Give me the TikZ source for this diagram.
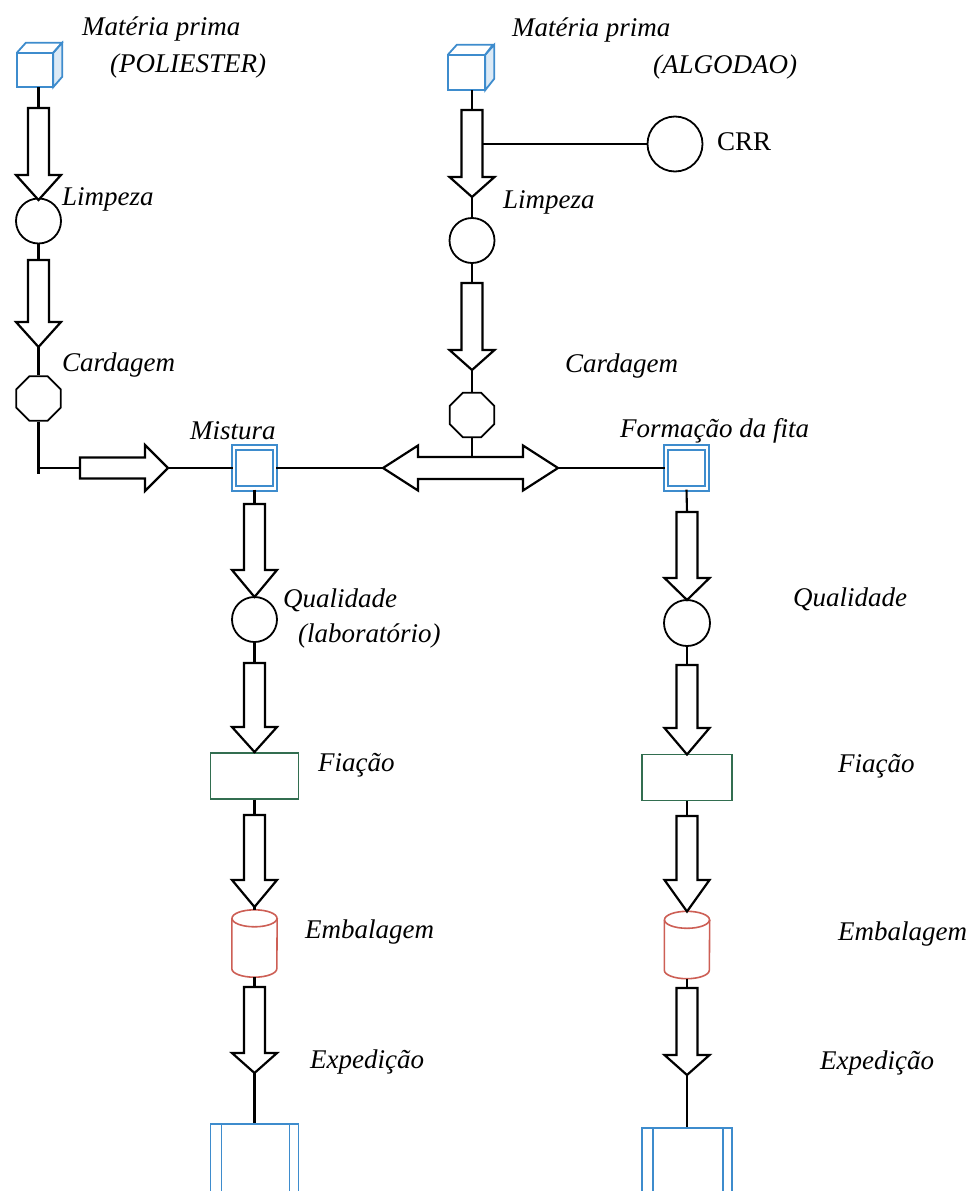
\documentclass[tikz,border=0pt]{standalone}
\usepackage{fontspec}
\setmainfont{Liberation Serif}
\usetikzlibrary{shapes.geometric,calc}
\definecolor{cblue}{RGB}{62,140,205}
\definecolor{cgreen}{RGB}{50,110,80}
\definecolor{cred}{RGB}{205,95,85}
\newcommand\varr[5]{%
  \draw[blk] (#2-10.5,#3) -- (#2+10.5,#3) -- (#2+10.5,#4) -- (#2+22.5,#4) -- (#2,#5) -- (#2-22.5,#4) -- (#2-10.5,#4) -- cycle;
  \coordinate (#1t) at (#2,#3);
  \coordinate (#1p) at (#2,#5);}
\newcommand\cubeshape[1]{%
  \draw[cblue, line width=1.8pt, fill=cblue!18] (#1.north east) -- ++(9,-10) -- ++(0,34) -- (#1.south east) -- cycle;
  \draw[cblue, line width=1.8pt] (#1.north west) -- ++(9,-10) -- ++(36,0) -- (#1.north east);
  \draw[cblue, line width=1.8pt] (#1.south west) rectangle (#1.north east);}
\newcommand\cyl[1]{%
  \draw[cred, line width=1.6pt] ($(#1.north west)+(0,8.5)$) -- ($(#1.south west)+(0,-8.5)$)
    arc[start angle=180, end angle=0, x radius=22.5, y radius=8.5] -- ($(#1.north east)+(0,8.5)$);
  \draw[cred, line width=1.6pt] ($(#1.north)+(0,8.5)$) ellipse[x radius=22.5, y radius=8.5];}
\newcommand\shipbox[1]{%
  \draw[cblue, line width=1.8pt] ($(#1.north west)+(12,0)$) -- ($(#1.south west)+(12,0)$);
  \draw[cblue, line width=1.8pt] ($(#1.north east)+(-10,0)$) -- ($(#1.south east)+(-10,0)$);}
\begin{document}
\begin{tikzpicture}[x=1pt,y=-1pt,
  lbl/.style={font=\fontsize{27}{30}\selectfont\itshape, inner sep=0, anchor=base west},
  ln/.style={line width=2.1pt},
  blk/.style={line width=2.2pt, fill=white, line join=miter},
  circ/.style={circle, draw, line width=1.8pt, minimum size=45pt, inner sep=0},
  oct/.style={regular polygon, regular polygon sides=8, draw, line width=1.8pt, minimum size=48pt, inner sep=0},
  mixbox/.style={rectangle, draw=cblue, line width=2.2pt, double=white, double distance=2.4pt, minimum size=41pt, inner sep=0},
  spinbox/.style={rectangle, draw=cgreen, line width=1.9pt, minimum width=88pt, minimum height=46pt, inner sep=0},
  packbox/.style={rectangle, minimum width=45pt, minimum height=67pt, inner sep=0},
  expbox/.style={rectangle, draw=cblue, line width=1.9pt, minimum width=88pt, minimum height=90pt, inner sep=0, anchor=north},
  cubebox/.style={rectangle, minimum width=36pt, minimum height=34pt, inner sep=0}]
\useasboundingbox (0,0) rectangle (976,1191);
\clip (0,0) rectangle (976,1191);
\fill[white] (0,0) rectangle (976,1191);

% ---------- left column (POLIESTER) ----------
\node[cubebox] (cubeP) at (35,70) {};
\cubeshape{cubeP}
\node[circ] (limP) at (38.5,221) {};
\node[oct] (carP) at (38.5,398.5) {};
\varr{aP1}{38.5}{108}{175}{200}
\varr{aP2}{38.5}{260}{322}{347}
\draw[ln] (aP1t |- cubeP.south) -- (aP1t);
\draw[ln] (aP1p) -- (limP.north);
\draw[ln] (limP.south) -- (aP2t);
\draw[ln] (aP2p) -- (carP.north);
\coordinate (jP) at (38.5,468);
\draw[ln] (carP.south) -- (jP) -- ++(0,6);

% ---------- Mistura ----------
\node[mixbox] (mis) at (254.5,468) {};
\draw[blk] (80,457.5) -- (145,457.5) -- (145,445) -- (168,468) -- (145,491) -- (145,478.5) -- (80,478.5) -- cycle;
\coordinate (hPt) at (80,468);
\coordinate (hPp) at (168,468);
\draw[ln] (jP) -- (hPt);
\draw[ln] (hPp) -- (mis.west);

% ---------- middle column (ALGODAO) ----------
\node[cubebox, minimum width=37pt, minimum height=35pt] (cubeA) at (466.5,72.5) {};
\cubeshape{cubeA}
\node[circ] (limA) at (472,240.5) {};
\node[oct] (carA) at (472,415) {};
\node[circ, minimum size=55pt] (crr) at (675,144) {};
\varr{aA1}{472}{110}{177}{197}
\varr{aA2}{472}{283}{350}{370}
\draw[ln] (aA1t |- cubeA.south) -- (aA1t);
\draw[ln] (aA1p) -- (limA.north);
\draw[ln] (limA.south) -- (aA2t);
\draw[ln] (aA2p) -- (carA.north);
\coordinate (jcrr) at (483,144);
\draw[line width=1.1pt] (jcrr) -- (crr.west);

% ---------- double arrow ----------
\draw[blk] (383,468) -- (418,445.5) -- (418,457) -- (523,457) -- (523,445.5) -- (558,468) -- (523,490.5) -- (523,479) -- (418,479) -- (418,490.5) -- cycle;
\coordinate (dl) at (383,468);
\coordinate (dr) at (558,468);
\coordinate (dtop) at (472,457);
\draw[ln] (mis.east) -- (dl);
\draw[ln] (carA.south) -- (dtop);

% ---------- Formacao da fita ----------
\node[mixbox] (fita) at (686.5,468) {};
\draw[ln] (dr) -- (fita.west);

% ---------- Mistura chain ----------
\node[circ] (quaL) at (254.5,619.5) {};
\node[spinbox] (fiaL) at (254.5,776) {};
\node[packbox] (embL) at (254.5,943.5) {};
\cyl{embL}
\node[expbox] (expL) at (254.5,1123) {};
\shipbox{expL}
\varr{aL1}{254.5}{504}{570}{597}
\varr{aL2}{254.5}{663}{727}{752}
\varr{aL3}{254.5}{815}{880}{907}
\varr{aL4}{254.5}{987}{1053}{1073}
\draw[ln] (mis.south) -- (aL1t);
\draw[ln] (aL1p) -- (quaL.north);
\draw[ln] (quaL.south) -- (aL2t);
\draw[ln] (aL2p) -- (fiaL.north);
\draw[ln] (fiaL.south) -- (aL3t);
\draw[ln] (aL3p) -- (embL.north);
\draw[ln] (embL.south) -- (aL4t);
\draw[ln] (aL4p) -- (expL.north);

% ---------- Formacao chain ----------
\node[circ, minimum size=46pt] (quaR) at (687,623) {};
\node[spinbox, minimum width=90pt] (fiaR) at (687,777.5) {};
\node[packbox] (embR) at (687,945) {};
\cyl{embR}
\node[expbox, minimum width=90pt] (expR) at (687,1127) {};
\shipbox{expR}
\varr{aR1}{687}{512}{578}{600}
\varr{aR2}{687}{665}{728}{754.5}
\varr{aR3}{687}{816}{880}{911.5}
\varr{aR4}{687}{988}{1055}{1075}
\draw[ln] (fita.south) -- (aR1t);
\draw[ln] (aR1p) -- (quaR.north);
\draw[ln] (quaR.south) -- (aR2t);
\draw[ln] (aR2p) -- (fiaR.north);
\draw[ln] (fiaR.south) -- (aR3t);
\draw[ln] (aR3p) -- (embR.north);
\draw[ln] (embR.south) -- (aR4t);
\draw[ln] (aR4p) -- (expR.north);

% ---------- labels ----------
\node[lbl] (tMP) at (82,35) {Matéria prima};
\node[lbl] (tPol) at (110,72) {(POLIESTER)};
\node[lbl] (tMA) at (512,36) {Matéria prima};
\node[lbl] (tAlg) at (653,73) {(ALGODAO)};
\node[lbl, font=\fontsize{27}{30}\selectfont] (tCRR) at (717,150) {CRR};
\node[lbl] (tLimP) at (62,205) {Limpeza};
\node[lbl] (tLimA) at (503,208) {Limpeza};
\node[lbl] (tCarP) at (62,371) {Cardagem};
\node[lbl] (tCarA) at (565,372) {Cardagem};
\node[lbl] (tMis) at (190,439) {Mistura};
\node[lbl] (tFita) at (620,437) {Formação da fita};
\node[lbl] (tQuaL) at (283,607) {Qualidade};
\node[lbl] (tLab) at (298,642) {(laboratório)};
\node[lbl] (tQuaR) at (793,606) {Qualidade};
\node[lbl] (tFiaL) at (318,771) {Fiação};
\node[lbl] (tFiaR) at (838,772) {Fiação};
\node[lbl] (tEmbL) at (305,938) {Embalagem};
\node[lbl] (tEmbR) at (838,940) {Embalagem};
\node[lbl] (tExpL) at (310,1068) {Expedição};
\node[lbl] (tExpR) at (820,1069) {Expedição};
\end{tikzpicture}
\end{document}
